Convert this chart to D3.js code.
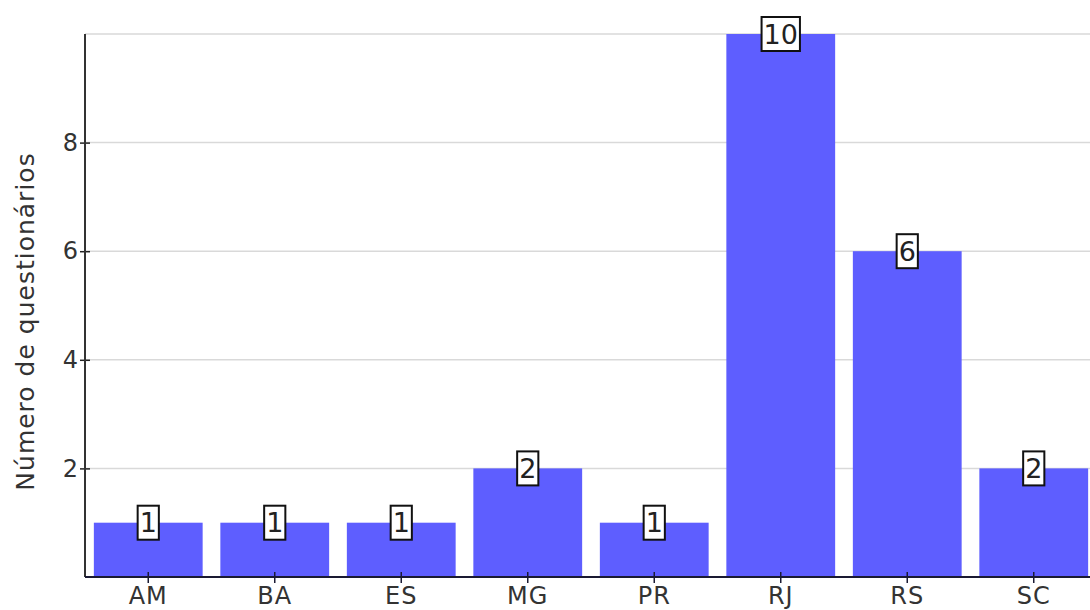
<!DOCTYPE html>
<html>
<head>
<meta charset="utf-8">
<script src="https://cdn.jsdelivr.net/npm/d3@7"></script>
<style>
  html, body { margin: 0; padding: 0; background: #fff; }
  svg { display: block; }
  text { font-family: "DejaVu Sans", sans-serif; }
</style>
</head>
<body>
<svg id="chart" width="1090" height="610"></svg>
<script>
// Questionnaires per state
const states = ["AM", "BA", "ES", "MG", "PR", "RJ", "RS", "SC"];
const counts = [1, 1, 1, 2, 1, 10, 6, 2];
const yTicks = [2, 4, 6, 8];
const gridValues = [2, 4, 6, 8, 10];
const yTitle = "Número de questionários";

const svg = d3.select("#chart");
const plotLeft = 85, plotRight = 1097, plotTop = 34, plotBottom = 577;

const x = d3.scaleBand()
  .domain(states)
  .range([plotLeft, plotRight])
  .paddingInner(0.14)
  .paddingOuter(0.07);

const y = d3.scaleLinear().domain([0, 10]).range([plotBottom, plotTop]);

// horizontal grid
svg.append("g")
  .selectAll("line")
  .data(gridValues)
  .join("line")
  .attr("x1", plotLeft).attr("x2", 1090)
  .attr("y1", d => y(d)).attr("y2", d => y(d))
  .attr("stroke", "#d9d9d9")
  .attr("stroke-width", 1.5);

// bars
svg.append("g")
  .selectAll("rect")
  .data(states)
  .join("rect")
  .attr("x", d => x(d))
  .attr("y", (d, i) => y(counts[i]))
  .attr("width", x.bandwidth())
  .attr("height", (d, i) => y(0) - y(counts[i]))
  .attr("fill", "#5e5eff");

// y axis
const yAxis = svg.append("g")
  .attr("transform", `translate(${plotLeft},0)`)
  .call(d3.axisLeft(y).tickValues(yTicks).tickSize(5).tickPadding(2).tickFormat(d3.format("d")));
yAxis.select(".domain").remove();
yAxis.append("line")
  .attr("x1", 0).attr("x2", 0)
  .attr("y1", plotTop).attr("y2", plotBottom)
  .attr("stroke", "#333").attr("stroke-width", 2);
yAxis.selectAll(".tick line")
  .attr("x1", -5).attr("x2", 5)
  .attr("stroke", "#222").attr("stroke-width", 1.5);
yAxis.selectAll(".tick text")
  .attr("fill", "#333")
  .style("font-size", "24px");

// x axis
const xAxis = svg.append("g")
  .attr("transform", `translate(0,${plotBottom})`)
  .call(d3.axisBottom(x).tickSize(6).tickPadding(4));
xAxis.select(".domain").remove();
xAxis.append("line")
  .attr("x1", plotLeft).attr("x2", 1090)
  .attr("y1", 0).attr("y2", 0)
  .attr("stroke", "#1a1a33").attr("stroke-width", 2);
xAxis.selectAll(".tick line")
  .attr("y1", -5).attr("y2", 6)
  .attr("stroke", "#1a1a33").attr("stroke-width", 1.5);
xAxis.selectAll(".tick text")
  .attr("fill", "#333")
  .style("font-size", "24px")
  .style("letter-spacing", "1px");

// y title
svg.append("text")
  .attr("transform", `translate(25,${(plotTop + plotBottom) / 2 + 16}) rotate(-90)`)
  .attr("text-anchor", "middle")
  .attr("dominant-baseline", "central")
  .attr("fill", "#333")
  .style("font-size", "25px")
  .style("letter-spacing", "1px")
  .text(yTitle);

// value labels in boxes centred on each bar top
const labels = svg.append("g")
  .selectAll("g")
  .data(states)
  .join("g")
  .attr("transform", (d, i) => `translate(${x(d) + x.bandwidth() / 2},${y(counts[i])})`);

labels.append("text")
  .attr("text-anchor", "middle")
  .attr("dy", "0.36em")
  .attr("fill", "#222")
  .style("font-size", "27px")
  .text((d, i) => counts[i]);

labels.each(function () {
  const g = d3.select(this);
  const bb = g.select("text").node().getBBox();
  g.insert("rect", "text")
    .attr("x", bb.x - 2)
    .attr("y", -17)
    .attr("width", bb.width + 4)
    .attr("height", 34)
    .attr("fill", "#fff")
    .attr("stroke", "#111")
    .attr("stroke-width", 2);
});
</script>
</body>
</html>
